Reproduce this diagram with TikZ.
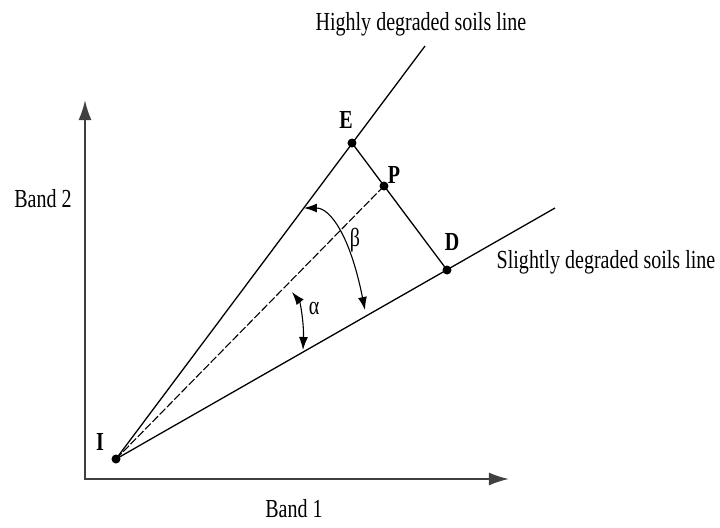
\documentclass[tikz,border=0pt]{standalone}
\usepackage{fontspec}
\setmainfont{Liberation Serif}
\usetikzlibrary{arrows.meta}
\newcommand{\sqz}[1]{\scalebox{0.77}[1]{#1}}

\begin{document}
\begin{tikzpicture}[x=0.5pt,y=-0.5pt,font=\fontsize{13}{15}\selectfont,
    axis/.style={black!75,line width=1pt,{Latex[length=10pt,width=6.5pt]}-{Latex[length=10pt,width=6.5pt]}},
    soil/.style={line width=0.65pt},
    angarr/.style={line width=0.55pt,{Latex[length=6.5pt,width=4.5pt]}-{Latex[length=6.5pt,width=4.5pt]}},
    lab/.style={inner sep=0pt,font=\fontsize{13}{15}\selectfont\bfseries}]

        \useasboundingbox (0,0) rectangle (720,527);
        \coordinate (O) at (85,479);
        \coordinate (Ytop) at (85,100);
        \coordinate (Xend) at (509,479);
        \draw[axis] (Ytop) -- (O) -- (Xend);
        \node (band1) at (294,509) {\sqz{Band 1}};
        \node (band2) at (43,199) {\sqz{Band 2}};

        \coordinate (I) at (116,459);
        \coordinate (E) at (352,143);
        \coordinate (P) at (384,186);
        \coordinate (D) at (447,270);
        \coordinate (H) at (425,46);
        \coordinate (S) at (555,208);
        \draw[soil] (I) -- (H);
        \draw[soil] (I) -- (S);
        \draw[soil] (E) -- (D);
        \draw[line width=0.55pt,dash pattern=on 4pt off 1.2pt] (I) -- (P);
        \foreach \p in {I,E,P,D} \fill (\p) circle (4.5);

        \node[lab] (Ilab) at (100,442) {\sqz{I}};
        \node[lab] (Elab) at (346,120) {\sqz{E}};
        \node[lab] (Plab) at (394,175) {\sqz{P}};
        \node[lab] (Dlab) at (452,242) {\sqz{D}};
        \node (high) at (421,24) {\sqz{Highly degraded soils line}};
        \node (slight) at (606,262) {\sqz{Slightly degraded soils line}};

        \coordinate (b1) at (304,208);
        \coordinate (b2) at (365,310);
        \draw[angarr] (b1) .. controls (330,208) and (350,235) .. (b2);
        \node (beta) at (355,240) {\sqz{β}};
        \coordinate (a1) at (292,292);
        \coordinate (a2) at (303,350);
        \draw[angarr] (a1) .. controls (300,302) and (304,322) .. (a2);
        \node (alpha) at (314,308) {\sqz{α}};

    \end{tikzpicture}
\end{document}
